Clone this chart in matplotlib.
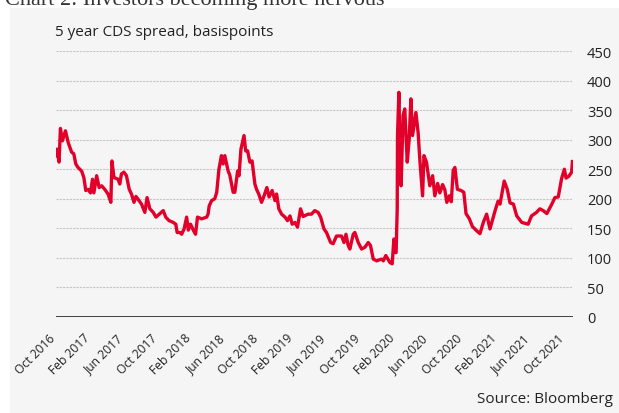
import pandas as pd
import matplotlib
matplotlib.use('Agg')
from matplotlib import pyplot as plt
from matplotlib.patches import Rectangle
import matplotlib.dates as mdates

plt.rcParams['font.family'] = ['Open Sans', 'DejaVu Sans']

dates = [
    '2016-09-24', '2016-09-28', '2016-10-05', '2016-10-10', '2016-10-17', '2016-10-28',
    '2016-11-07', '2016-11-19', '2016-11-27', '2016-12-04', '2016-12-12', '2016-12-25',
    '2017-01-02', '2017-01-09', '2017-01-17', '2017-01-26', '2017-02-02', '2017-02-07',
    '2017-02-17', '2017-02-26', '2017-03-07', '2017-03-18', '2017-03-30', '2017-04-09',
    '2017-04-13', '2017-04-20', '2017-05-05', '2017-05-11', '2017-05-17', '2017-05-26',
    '2017-06-04', '2017-06-14', '2017-06-22', '2017-07-01', '2017-07-08', '2017-07-16',
    '2017-07-28', '2017-08-09', '2017-08-17', '2017-08-27', '2017-09-08', '2017-09-18',
    '2017-10-02', '2017-10-14', '2017-10-23', '2017-11-04', '2017-11-19', '2017-11-28',
    '2017-12-03', '2017-12-13', '2017-12-19', '2017-12-28', '2018-01-06', '2018-01-12',
    '2018-01-20', '2018-01-30', '2018-02-07', '2018-02-14', '2018-03-01', '2018-03-19',
    '2018-03-24', '2018-03-28', '2018-04-06', '2018-04-17', '2018-04-24', '2018-05-02',
    '2018-05-11', '2018-05-17', '2018-05-23', '2018-06-04', '2018-06-10', '2018-06-22',
    '2018-06-28', '2018-07-08', '2018-07-13', '2018-07-20', '2018-07-31', '2018-08-06',
    '2018-08-13', '2018-08-21', '2018-08-29', '2018-09-08', '2018-09-14', '2018-09-22',
    '2018-10-02', '2018-10-11', '2018-10-21', '2018-10-29', '2018-11-09', '2018-11-19',
    '2018-11-25', '2018-12-03', '2018-12-13', '2018-12-25', '2019-01-03', '2019-01-12',
    '2019-01-20', '2019-01-30', '2019-02-08', '2019-02-19', '2019-02-28', '2019-03-18',
    '2019-03-30', '2019-04-11', '2019-04-23', '2019-05-02', '2019-05-14', '2019-05-23',
    '2019-06-07', '2019-06-16', '2019-06-28', '2019-07-16', '2019-07-25', '2019-08-01',
    '2019-08-09', '2019-08-15', '2019-08-27', '2019-09-02', '2019-09-14', '2019-09-26',
    '2019-10-08', '2019-10-20', '2019-10-28', '2019-11-07', '2019-11-19', '2019-12-07',
    '2019-12-13', '2019-12-22', '2020-01-06', '2020-01-14', '2020-01-20', '2020-01-25',
    '2020-01-28', '2020-02-01', '2020-02-02', '2020-02-07', '2020-02-11', '2020-02-15',
    '2020-02-22', '2020-02-28', '2020-03-08', '2020-03-15', '2020-03-21', '2020-03-27',
    '2020-04-08', '2020-04-16', '2020-04-22', '2020-05-02', '2020-05-07', '2020-05-16',
    '2020-05-28', '2020-06-07', '2020-06-15', '2020-06-25', '2020-07-03', '2020-07-13',
    '2020-07-21', '2020-07-28', '2020-08-06', '2020-08-13', '2020-08-20', '2020-08-26',
    '2020-09-04', '2020-09-17', '2020-09-27', '2020-10-05', '2020-10-17', '2020-10-28',
    '2020-11-12', '2020-11-24', '2020-12-06', '2020-12-18', '2020-12-30', '2021-01-18',
    '2021-01-28', '2021-02-04', '2021-02-19', '2021-03-02', '2021-03-12', '2021-03-24',
    '2021-04-05', '2021-04-23', '2021-05-16', '2021-05-28', '2021-06-15', '2021-06-27',
    '2021-07-09', '2021-07-22', '2021-08-08', '2021-08-20', '2021-09-01', '2021-09-13',
    '2021-09-23', '2021-09-29', '2021-10-09', '2021-10-19', '2021-10-22',
]
cds = [
    273, 284, 262, 319, 298, 315,
    295, 279, 276, 259, 253, 247,
    236, 214, 216, 210, 233, 210,
    239, 219, 222, 216, 208, 194,
    264, 236, 233, 225, 242, 245,
    239, 216, 208, 194, 204, 199,
    191, 177, 202, 183, 177, 169,
    175, 180, 169, 163, 160, 157,
    143, 143, 140, 149, 169, 147,
    157, 147, 140, 169, 166, 169,
    174, 188, 197, 200, 211, 250,
    273, 259, 273, 247, 240, 211,
    211, 247, 239, 284, 307, 281,
    281, 262, 264, 225, 216, 208,
    194, 205, 219, 203, 214, 197,
    208, 183, 174, 169, 163, 171,
    157, 160, 152, 183, 170, 174,
    174, 180, 177, 169, 149, 143,
    126, 124, 137, 137, 126, 140,
    121, 115, 140, 143, 126, 115,
    118, 126, 121, 98, 95, 98,
    95, 104, 92, 90, 132, 109,
    109, 183, 307, 380, 273, 222,
    341, 352, 262, 301, 369, 307,
    346, 312, 267, 205, 273, 262,
    222, 239, 205, 226, 210, 224,
    215, 194, 205, 195, 248, 253,
    216, 214, 211, 175, 166, 153,
    146, 141, 160, 174, 149, 181,
    196, 191, 230, 216, 193, 191,
    171, 160, 157, 171, 177, 183,
    180, 175, 190, 202, 203, 234,
    250, 235, 238, 245, 263,
]
tick_dates = pd.date_range('2016-10-01', '2021-10-01', freq='4MS')
y_ticks = [0, 50, 100, 150, 200, 250, 300, 350, 400, 450]

series = pd.Series(cds, index=pd.to_datetime(dates))

fig = plt.figure(figsize=(6.19, 4.14), dpi=100)
panel = Rectangle((10 / 619, 0), 1, (414 - 9) / 414, transform=fig.transFigure,
                  facecolor='#f5f5f5', edgecolor='none', zorder=-10)
fig.add_artist(panel)
# title is cut off at the top edge, as in the source image
fig.text(5 / 619, 1 - 5 / 414, 'Chart 2: Investors becoming more nervous',
         family='Liberation Serif', fontsize=16, color='#333333', va='baseline')
fig.text(55 / 619, 1 - 32 / 414, '5 year CDS spread, basispoints', fontsize=11,
         color='#222222', va='center')
fig.text(613 / 619, 1 - 400 / 414, 'Source: Bloomberg', fontsize=11,
         color='#222222', va='center', ha='right')

ax = fig.add_axes([55.7 / 619, 96 / 414, (573 - 55.7) / 619, 266 / 414])
ax.set_zorder(5)
ax.patch.set_alpha(0)
for s in ax.spines.values():
    s.set_visible(False)

for v in y_ticks[1:]:
    ax.axhline(v, color='#c4c4c4', lw=0.8, ls=(0, (2, 1)), zorder=1)
ax.axhline(0, color='#333333', lw=1.3, zorder=2)

ax.plot(series.index, series.values, color='#e2002a', lw=2.4, zorder=3)

ax.set_ylim(0, 450)
ax.set_xlim(pd.Timestamp('2016-09-23'), pd.Timestamp('2021-10-24'))
ax.yaxis.tick_right()
ax.set_yticks(y_ticks)
ax.tick_params(axis='y', length=0, pad=10, labelsize=10.5, labelcolor='#222222')
ax.set_xticks(tick_dates)
ax.xaxis.set_major_formatter(mdates.DateFormatter('%b %Y'))
ax.tick_params(axis='x', length=0, pad=10, labelsize=8.7, labelcolor='#222222')
for lab in ax.get_xticklabels():
    lab.set_rotation(45)
    lab.set_ha('right')

plt.savefig('out.png', dpi=100)
plt.close(fig=fig)
